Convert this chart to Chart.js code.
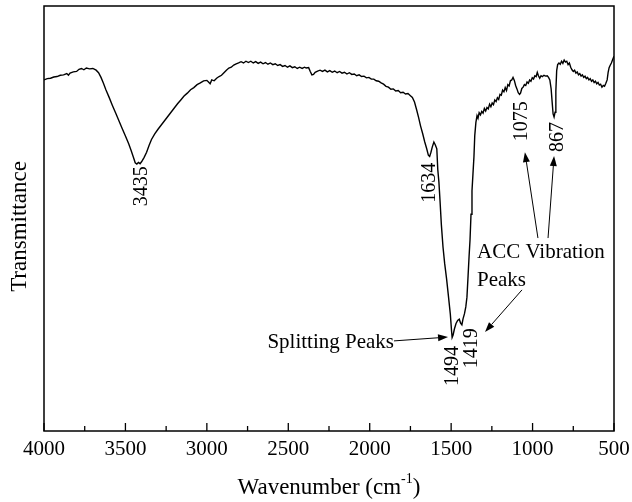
<!DOCTYPE html>
<html><head><meta charset="utf-8">
<script src="https://cdn.jsdelivr.net/npm/chart.js@4/dist/chart.umd.min.js"></script>
<style>html,body{margin:0;padding:0;background:#fff}#wrap{width:632px;height:502px}</style>
</head><body><div id="wrap"><canvas id="c" width="632" height="502"></canvas></div>
<script>
const wavenumber = [4000,3980,3960,3940,3920,3900,3880,3860,3850,3840,3820,3800,3785,3770,3755,3740,3720,3700,3680,3665,3650,3635,3620,3600,3580,3560,3540,3520,3500,3480,3465,3450,3440,3430,3420,3410,3400,3385,3370,3355,3340,3320,3300,3280,3260,3240,3220,3200,3180,3160,3140,3120,3100,3080,3060,3040,3020,3000,2990,2980,2970,2955,2940,2925,2910,2895,2880,2865,2850,2835,2820,2805,2790,2775,2760,2745,2730,2715,2700,2685,2670,2655,2640,2625,2610,2595,2580,2565,2550,2535,2520,2505,2490,2475,2460,2445,2430,2415,2400,2390,2375,2365,2355,2345,2335,2320,2305,2290,2275,2260,2245,2230,2215,2200,2185,2170,2155,2140,2125,2110,2095,2080,2065,2050,2035,2020,2005,1990,1975,1960,1945,1930,1915,1900,1885,1870,1855,1840,1825,1810,1795,1780,1765,1750,1738,1725,1712,1700,1688,1675,1662,1650,1640,1632,1624,1616,1606,1597,1588,1582,1575,1568,1560,1550,1540,1528,1516,1505,1498,1494,1488,1480,1470,1460,1450,1442,1434,1427,1418,1410,1403,1396,1390,1384,1378,1372,1366,1360,1355,1348,1341,1335,1328,1320,1312,1304,1296,1288,1280,1272,1264,1256,1248,1240,1232,1224,1216,1208,1200,1192,1184,1176,1168,1160,1152,1144,1136,1128,1120,1112,1104,1096,1088,1080,1074,1066,1058,1050,1042,1034,1026,1018,1010,1002,994,986,978,971,964,956,948,940,930,920,910,902,894,886,880,874,868,862,857,852,846,838,830,822,814,806,798,790,782,774,766,758,750,742,734,726,718,710,702,694,686,678,670,662,654,646,638,630,622,614,606,598,590,582,574,566,558,550,542,536,530,524,516,508,500];
const transmittance = [82.6,82.9,83.0,83.3,83.4,83.7,83.8,84.1,83.7,84.2,84.5,84.6,85.1,85.3,85.0,85.4,85.2,85.3,84.9,84.3,83.2,81.8,80.3,78.5,76.6,74.8,73.0,71.2,69.4,67.6,66.0,64.3,63.1,62.8,63.2,62.9,63.4,64.4,65.6,67.2,68.6,69.9,71.0,72.0,73.0,74.0,75.0,76.0,77.0,77.9,78.8,79.5,80.3,80.8,81.5,81.9,82.4,82.5,82.1,81.7,82.6,82.4,83.0,83.4,83.7,84.3,84.9,85.4,85.6,86.1,86.4,86.6,86.9,86.6,87.0,86.7,87.0,86.6,86.9,86.5,86.8,86.4,86.7,86.3,86.6,86.2,86.4,86.0,86.2,85.8,86.0,85.6,85.9,85.5,85.7,85.3,85.6,85.3,85.6,85.4,85.5,84.6,83.8,83.9,84.4,84.7,84.9,84.6,84.9,84.5,84.8,84.4,84.7,84.3,84.6,84.2,84.4,84.0,84.3,83.9,84.0,83.6,83.8,83.4,83.5,83.1,83.2,82.8,82.8,82.4,82.3,81.9,81.6,81.1,80.9,80.4,80.5,80.0,80.1,79.6,79.7,79.3,79.4,78.9,78.5,77.4,75.6,73.8,71.8,70.0,68.0,66.4,64.9,64.6,65.6,66.8,68.0,67.3,66.4,61.5,58.5,54.0,48.5,43.3,39.5,35.8,31.5,27.5,23.8,22.0,22.6,24.0,25.3,26.0,26.3,25.4,25.0,26.4,27.6,29.2,31.5,36.5,41.0,45.0,51.0,56.5,60.5,64.5,69.5,72.6,74.2,73.6,74.9,74.4,75.2,74.8,75.9,75.3,76.1,75.8,76.9,76.3,77.2,76.8,77.9,77.5,78.4,78.0,79.2,79.0,80.2,79.8,80.8,80.1,81.5,81.2,82.4,82.6,83.2,82.5,81.3,80.5,79.6,79.2,79.5,80.6,80.9,81.5,81.3,82.1,81.8,82.6,82.3,83.1,82.8,83.6,83.4,84.4,83.6,83.0,83.6,83.4,83.7,83.5,83.6,83.2,82.6,80.5,77.5,74.6,73.9,75.0,80.0,84.8,86.2,86.6,86.3,87.0,86.5,87.3,86.8,87.0,86.2,86.6,85.6,85.0,84.6,84.9,84.2,84.5,83.8,84.1,83.5,83.8,83.2,83.5,82.9,83.2,82.6,82.9,82.3,82.6,82.0,82.3,81.7,82.0,81.4,81.6,80.9,81.3,81.1,81.8,82.6,84.4,85.5,86.0,86.6,87.4,88.2];
const xTickLabels = [4000,3500,3000,2500,2000,1500,1000,500];
const xMinorTicks = [3750,3250,2750,2250,1750,1250,750];
const peakLabels = ['3435','1634','1494','1419','1075','867'];
const peakLabelAt = [[3404,57.6],[1639,58.4],[1498,15.3],[1378,19.5],[1074,72.9],[850,69.2]];
const noteTexts = ['Splitting Peaks','ACC Vibration','Peaks'];
const noteAt = [[1851,20.9,'right'],[1341,42.1,'left'],[1341,35.5,'left']];
const arrows = [[[1851,21.2],[1519,22.1]],[[1065,33.2],[1292,23.3]],[[967,45.4],[1047,65.6]],[[905,45.4],[868,64.7]]];

const FONT = '"Liberation Serif", "Times New Roman", serif';

const decor = {
  id: 'decor',
  afterDraw(chart) {
    const ctx = chart.ctx, a = chart.chartArea;
    const xs = chart.scales.x, ys = chart.scales.y;
    ctx.save();
    ctx.strokeStyle = '#000'; ctx.fillStyle = '#000';
    ctx.lineWidth = 1.5;
    ctx.strokeRect(a.left, a.top, a.right - a.left, a.bottom - a.top);
    ctx.lineWidth = 1.3;
    ctx.beginPath();
    xTickLabels.forEach(v => { const x = xs.getPixelForValue(v); ctx.moveTo(x, a.bottom); ctx.lineTo(x, a.bottom - 8); });
    xMinorTicks.forEach(v => { const x = xs.getPixelForValue(v); ctx.moveTo(x, a.bottom); ctx.lineTo(x, a.bottom - 5); });
    ctx.stroke();
    ctx.font = '21px ' + FONT;
    ctx.textAlign = 'center'; ctx.textBaseline = 'middle';
    xTickLabels.forEach(v => ctx.fillText(String(v), xs.getPixelForValue(v), a.bottom + 18));
    // x title with superscript
    const cx = (a.left + a.right) / 2, ty = 488;
    const p1 = 'Wavenumber (cm', p3 = ')';
    ctx.font = '23px ' + FONT; const w1 = ctx.measureText(p1).width, w3 = ctx.measureText(p3).width;
    ctx.font = '14px ' + FONT; const w2 = ctx.measureText('-1').width;
    let sx = cx - (w1 + w2 + w3) / 2;
    ctx.textAlign = 'left';
    ctx.font = '23px ' + FONT; ctx.fillText(p1, sx, ty);
    ctx.font = '14px ' + FONT; ctx.fillText('-1', sx + w1, ty - 9);
    ctx.font = '23px ' + FONT; ctx.fillText(p3, sx + w1 + w2, ty);
    // y title
    ctx.save();
    ctx.translate(20, (a.top + a.bottom) / 2 + 8);
    ctx.rotate(-Math.PI / 2);
    ctx.textAlign = 'center';
    ctx.fillText('Transmittance', 0, 0);
    ctx.restore();
    // peak labels (rotated)
    ctx.font = '20px ' + FONT;
    peakLabels.forEach((t, i) => {
      const x = xs.getPixelForValue(peakLabelAt[i][0]), y = ys.getPixelForValue(peakLabelAt[i][1]);
      ctx.save(); ctx.translate(x, y); ctx.rotate(-Math.PI / 2);
      ctx.textAlign = 'center'; ctx.textBaseline = 'middle';
      ctx.fillText(t, 0, 1);
      ctx.restore();
    });
    // notes
    ctx.font = '21px ' + FONT;
    noteTexts.forEach((t, i) => {
      ctx.textAlign = noteAt[i][2]; ctx.textBaseline = 'middle';
      ctx.fillText(t, xs.getPixelForValue(noteAt[i][0]), ys.getPixelForValue(noteAt[i][1]));
    });
    // arrows
    ctx.lineWidth = 1;
    arrows.forEach(ar => {
      const x0 = xs.getPixelForValue(ar[0][0]), y0 = ys.getPixelForValue(ar[0][1]);
      const x1 = xs.getPixelForValue(ar[1][0]), y1 = ys.getPixelForValue(ar[1][1]);
      const ang = Math.atan2(y1 - y0, x1 - x0), L = 10, W = 3.5;
      const bx = x1 - L * Math.cos(ang), by = y1 - L * Math.sin(ang);
      ctx.beginPath(); ctx.moveTo(x0, y0); ctx.lineTo(bx, by); ctx.stroke();
      ctx.beginPath(); ctx.moveTo(x1, y1);
      ctx.lineTo(bx + W * Math.sin(ang), by - W * Math.cos(ang));
      ctx.lineTo(bx - W * Math.sin(ang), by + W * Math.cos(ang));
      ctx.closePath(); ctx.fill();
    });
    ctx.restore();
  }
};

new Chart(document.getElementById('c'), {
  type: 'line',
  data: {
    datasets: [{
      data: wavenumber.map((w, i) => ({ x: w, y: transmittance[i] })),
      borderColor: '#000', borderWidth: 1.4, pointRadius: 0, tension: 0, fill: false
    }]
  },
  options: {
    responsive: false, animation: false, devicePixelRatio: 1,
    layout: { padding: { left: 44, right: 18, top: 6, bottom: 71 } },
    plugins: { legend: { display: false }, tooltip: { enabled: false } },
    scales: {
      x: { type: 'linear', reverse: true, min: 500, max: 4000, display: false },
      y: { type: 'linear', min: 0, max: 100, display: false }
    }
  },
  plugins: [decor]
});
</script></body></html>
